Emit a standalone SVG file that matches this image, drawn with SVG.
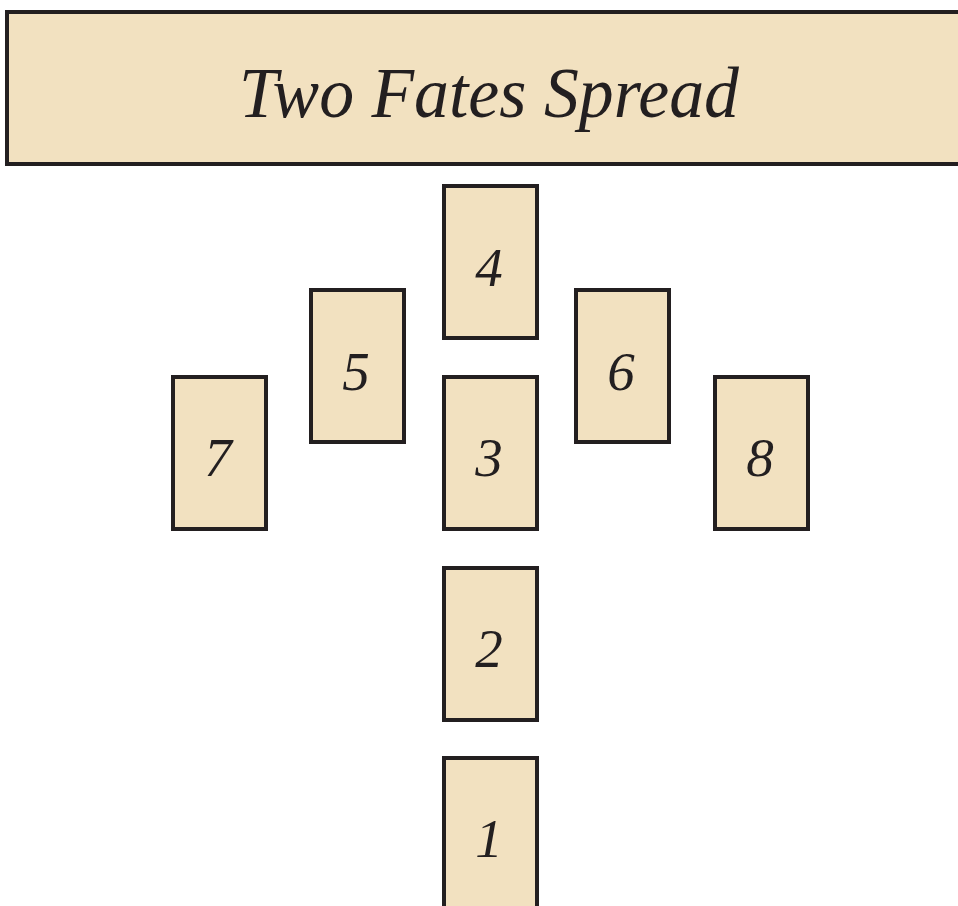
<svg xmlns="http://www.w3.org/2000/svg" width="958" height="906" viewBox="0 0 958 906">
<style>
.card{fill:#f2e1c0;stroke:#231f20;stroke-width:4}
.num{font-family:"Liberation Serif","Times New Roman",serif;font-style:italic;font-size:55px;fill:#231f20;text-anchor:middle}
.title{font-family:"Liberation Serif","Times New Roman",serif;font-style:italic;font-size:72px;fill:#231f20;text-anchor:middle}
</style>
<rect width="958" height="906" fill="#ffffff"/>
<g id="header">
<rect class="card" x="7" y="12" width="965" height="152"/>
<text class="title" x="489" y="117" textLength="500" lengthAdjust="spacingAndGlyphs">Two Fates Spread</text>
</g>
<g id="card4"><rect class="card" x="444" y="186" width="93" height="152"/><text class="num" x="489" y="286">4</text></g>
<g id="card5"><rect class="card" x="311" y="290" width="93" height="152"/><text class="num" x="356" y="390">5</text></g>
<g id="card6"><rect class="card" x="576" y="290" width="93" height="152"/><text class="num" x="621" y="390">6</text></g>
<g id="card7"><rect class="card" x="173" y="377" width="93" height="152"/><text class="num" x="218" y="476">7</text></g>
<g id="card3"><rect class="card" x="444" y="377" width="93" height="152"/><text class="num" x="489" y="476">3</text></g>
<g id="card8"><rect class="card" x="715" y="377" width="93" height="152"/><text class="num" x="760" y="476">8</text></g>
<g id="card2"><rect class="card" x="444" y="568" width="93" height="152"/><text class="num" x="489" y="667">2</text></g>
<g id="card1"><rect class="card" x="444" y="758" width="93" height="152"/><text class="num" x="489" y="857">1</text></g>
<g id="connectors"></g>
</svg>
